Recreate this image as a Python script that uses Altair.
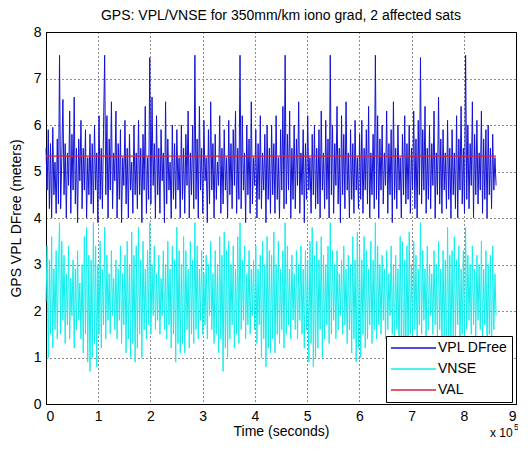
import altair as alt
import pandas as pd

FONT = "Liberation Sans"

# sampling step of the time series (seconds)
dt = 2160

# VPL DFree (meters), one list per day
vpl_d0 = [5.5,4.6,5.9,4.2,5.6,4.0,5.95,4.5,5.2,4.1,5.7,4.3,7.5,4.2,5.3,6.55,4.5,5.6,4.0,5.4,4.7,6.3,4.1,5.8,4.6,6.6,4.3,5.5,3.9,5.7,4.8,6.1,4.2,5.5,4.6,5.9,4.0,5.3,4.5,5.8]
vpl_d1 = [4.3,5.6,4.1,6.0,4.6,5.4,3.9,6.2,4.4,5.5,4.2,5.9,7.5,4.5,6.2,4.0,5.7,4.6,6.5,4.2,5.4,4.8,6.3,4.0,5.6,4.4,5.9,3.9,5.3,4.7,6.1,4.3,5.5,4.0,5.8,4.6,5.2,4.1,6.0,4.5]
vpl_d2 = [5.4,4.2,6.1,4.5,5.5,3.9,5.8,4.6,6.4,4.1,5.3,4.4,7.45,4.3,6.6,4.7,5.6,4.0,6.2,4.5,5.5,4.1,5.9,4.8,5.4,3.9,6.5,4.3,5.7,4.6,5.2,4.0,6.0,4.4,5.6,4.2,5.9,4.6,5.3,4.0]
vpl_d3 = [6.0,4.4,5.5,4.1,5.8,4.7,6.3,4.0,5.4,4.5,6.0,4.2,7.5,4.4,5.7,4.0,6.4,4.6,5.5,4.1,6.1,4.8,5.3,3.9,5.9,4.3,6.5,4.6,5.6,4.0,5.8,4.4,5.2,4.7,6.2,4.1,5.5,4.3,5.9,4.6]
vpl_d4 = [5.3,4.0,6.1,4.5,5.6,4.2,5.9,4.7,6.3,4.1,5.5,4.4,7.5,4.2,6.2,4.6,5.4,3.9,6.0,4.5,5.7,4.1,6.5,4.3,5.3,4.7,5.9,4.0,5.6,4.4,6.2,4.2,5.4,4.6,5.8,3.9,6.0,4.4,5.5,4.1]
vpl_d5 = [6.0,4.5,5.6,4.1,6.2,4.4,5.3,4.0,5.9,4.6,6.4,4.2,7.5,4.3,5.8,4.6,6.3,4.0,5.5,4.4,6.0,4.2,5.7,4.7,6.5,4.1,5.4,4.5,5.9,3.9,5.6,4.4,6.2,4.6,5.3,4.1,5.8,4.5,6.0,4.2]
vpl_d6 = [5.5,4.3,5.9,4.0,6.3,4.6,5.4,4.2,6.1,4.4,5.7,4.0,7.5,4.5,6.0,4.1,5.6,4.7,6.4,4.3,5.5,3.9,6.2,4.5,5.8,4.2,6.5,4.6,5.4,4.0,5.9,4.4,5.6,4.1,6.1,4.6,5.3,4.2,5.8,4.4]
vpl_d7 = [6.1,4.1,5.5,4.6,5.9,4.3,6.4,4.0,5.4,4.5,5.8,4.2,7.5,4.4,6.2,4.0,5.7,4.6,6.0,4.3,5.4,4.7,6.3,4.1,5.6,4.5,5.9,3.9,6.5,4.4,5.5,4.2,6.0,4.6,5.3,4.0,5.8,4.5,6.2,4.3]
vpl_d8 = [5.6,4.4,6.0,4.1,5.5,4.6,6.3,4.2,5.7,4.0,6.1,4.5,7.45,4.3,5.9,4.6,6.4,4.1,5.5,4.4,6.0,4.2,5.6,4.7,6.3,4.0,5.4,4.5,6.6,4.3,5.7,4.1,5.9,4.6,5.4,4.2,6.1,4.4,5.5,4.0]
vpl_d9 = [5.9,4.5,5.4,4.2,6.2,4.0,5.7,4.6,6.4,4.3,5.5,4.1,7.5,4.4,6.0,4.2,5.6,4.7,6.5,4.0,5.8,4.5,6.1,4.3,5.4,4.6,6.3,4.1,5.7,4.4,5.9,4.0,6.0,4.5,5.5,4.2,5.8,4.6,5.3,4.7]

# VNSE (meters), one list per day
vnse_d0 = [2.2,3.4,1.0,3.1,1.5,3.6,1.2,2.9,1.6,3.3,1.4,3.0,3.9,1.5,3.5,1.8,3.2,1.3,2.8,1.7,3.4,1.4,2.7,1.9,3.1,1.2,2.9,1.6,3.3,1.8,2.6,1.4,3.0,1.1,3.6,1.5,3.8,0.9,3.2,0.7]
vnse_d1 = [3.1,1.0,3.9,1.3,3.4,0.8,3.0,1.5,3.5,1.2,2.9,1.7,3.8,1.4,3.2,1.8,2.8,1.5,3.3,1.9,2.7,1.6,3.1,1.4,2.9,1.8,3.4,1.3,2.8,1.7,3.2,1.1,3.5,1.4,3.0,1.0,3.7,1.3,3.2,0.9]
vnse_d2 = [3.4,1.2,3.8,1.5,3.1,1.0,3.5,1.6,2.9,1.4,3.3,1.7,3.9,1.5,3.0,1.9,3.4,1.6,2.8,1.8,3.2,1.5,2.7,1.9,3.3,1.6,3.0,1.4,3.5,1.7,2.9,1.2,3.4,1.5,3.1,0.9,3.8,1.3,3.3,1.1]
vnse_d3 = [3.0,1.3,3.6,1.1,3.3,1.6,2.9,1.2,3.5,1.5,3.1,1.3,3.9,1.6,3.4,1.4,2.9,1.8,3.3,1.5,2.8,1.7,3.2,1.4,3.0,1.9,3.5,1.6,2.8,1.3,3.3,1.5,3.0,1.1,3.6,1.4,3.2,0.7,3.7,1.2]
vnse_d4 = [3.3,1.0,3.5,1.4,3.0,1.7,3.4,1.2,2.9,1.5,3.6,1.3,3.9,1.6,3.1,1.8,3.4,1.4,2.8,1.7,3.3,1.5,2.9,1.9,3.1,1.6,3.4,1.3,2.9,1.7,3.2,1.0,3.5,1.4,3.0,0.8,3.6,1.2,3.3,1.1]
vnse_d5 = [3.2,1.4,3.7,1.1,3.0,1.5,3.5,1.3,2.9,1.6,3.3,1.2,3.9,1.5,3.4,1.7,2.9,1.4,3.2,1.8,2.8,1.6,3.3,1.4,3.0,1.8,3.4,1.5,2.9,1.2,3.3,1.6,3.1,0.9,3.5,1.3,3.8,0.8,3.2,1.0]
vnse_d6 = [3.5,1.2,3.1,1.6,3.6,1.0,3.2,1.4,3.0,1.7,3.4,1.3,3.9,1.5,3.3,1.8,3.0,1.4,3.3,1.6,2.8,1.9,3.1,1.5,3.4,1.7,2.9,1.3,3.2,1.6,3.0,1.1,3.6,1.4,3.1,0.9,3.7,1.2,3.4,1.0]
vnse_d7 = [3.1,1.5,3.6,1.2,3.3,1.4,2.9,1.7,3.5,1.3,3.1,1.6,3.9,1.4,3.4,1.7,3.0,1.5,3.2,1.8,2.9,1.4,3.3,1.6,2.8,1.9,3.4,1.5,3.0,1.3,3.2,1.6,2.9,1.0,3.6,1.4,3.5,0.8,3.1,1.1]
vnse_d8 = [3.4,1.1,3.7,1.5,3.0,1.3,3.5,1.6,3.2,1.2,2.9,1.7,3.9,1.5,3.3,1.8,2.9,1.4,3.4,1.6,3.0,1.9,2.8,1.5,3.3,1.7,3.0,1.4,3.5,1.6,2.9,1.2,3.3,1.4,3.1,0.9,3.8,1.3,3.2,1.0]
vnse_d9 = [3.3,1.2,3.6,1.4,3.1,1.7,3.4,1.2,2.9,1.5,3.3,1.3,3.8,1.6,3.2,1.8,3.0,1.5,3.4,1.7,2.9,1.4,3.2,1.8,3.0,1.6,3.5,1.3,2.9,1.7,3.3,1.2,3.0,1.5,3.2,1.1,3.4,1.6,2.8,1.9]

VAL = 5.33

series_names = ["VPL DFree", "VNSE", "VAL"]
series_colors = ["#1212d6", "#12eeee", "#d42436"]

vpl = (vpl_d0 + vpl_d1 + vpl_d2 + vpl_d3 + vpl_d4 +
       vpl_d5 + vpl_d6 + vpl_d7 + vpl_d8 + vpl_d9)
vnse = (vnse_d0 + vnse_d1 + vnse_d2 + vnse_d3 + vnse_d4 +
        vnse_d5 + vnse_d6 + vnse_d7 + vnse_d8 + vnse_d9)
t = [i * dt for i in range(len(vpl))]
val_t = [t[0], t[-1]]
val_v = [VAL, VAL]

df = pd.DataFrame({
    "t": t + t + val_t,
    "v": vpl + vnse + val_v,
    "series": [series_names[0]] * len(vpl) + [series_names[1]] * len(vnse) + [series_names[2]] * 2,
})

x_enc = alt.X("t:Q",
              scale=alt.Scale(domain=[0, 900000], nice=False, zero=False),
              axis=alt.Axis(values=[i * 100000 for i in range(10)],
                            labelExpr="format(datum.value / 100000, 'd')",
                            title="Time (seconds)"))
y_enc = alt.Y("v:Q",
              scale=alt.Scale(domain=[0, 8], nice=False),
              axis=alt.Axis(values=list(range(9)), title="GPS VPL DFree (meters)"))
c_enc = alt.Color("series:N",
                  scale=alt.Scale(domain=series_names, range=series_colors),
                  sort=series_names,
                  legend=alt.Legend(title=None, orient="none", legendX=340, legendY=304,
                                    strokeColor="black", fillColor="white", padding=4,
                                    symbolType="stroke", symbolSize=2025, symbolStrokeWidth=1.5,
                                    clipHeight=16, rowPadding=5, labelFontSize=14, labelFont=FONT,
                                    labelColor="black", labelOffset=1, cornerRadius=0))

base = alt.Chart(df).mark_line(strokeWidth=1).encode(x=x_enc, y=y_enc, color=c_enc)
vpl_layer = base.transform_filter(alt.datum.series == "VPL DFree")
vnse_layer = base.transform_filter(alt.datum.series == "VNSE")
val_layer = alt.Chart(df).mark_line(strokeWidth=1.2).encode(
    x=x_enc, y=y_enc, color=c_enc).transform_filter(alt.datum.series == "VAL")

exp_df = pd.DataFrame({"s": ["x 10"]})
exp_txt = alt.Chart(exp_df).mark_text(align="left", baseline="middle", fontSize=12,
                                      font=FONT, color="black").encode(
    x=alt.value(444), y=alt.value(401), text="s:N")
exp5_df = pd.DataFrame({"s": ["5"]})
exp5_txt = alt.Chart(exp5_df).mark_text(align="left", baseline="middle", fontSize=9,
                                        font=FONT, color="black").encode(
    x=alt.value(468), y=alt.value(395), text="s:N")

chart = alt.layer(vpl_layer, vnse_layer, val_layer, exp_txt, exp5_txt).properties(
    width=470, height=372,
    autosize=alt.AutoSizeParams(type="none"),
    padding={"left": 38, "top": 24, "right": 2, "bottom": 38},
    title=alt.TitleParams("GPS: VPL/VNSE for 350mm/km iono grad, 2 affected sats",
                          frame="group", anchor="middle", fontSize=14, font=FONT,
                          fontWeight="normal", color="black", offset=2),
).configure_view(stroke="black", strokeWidth=1).configure_axis(
    domainColor="black", domainWidth=1, grid=True, gridColor="black",
    gridDash=[1, 3], gridOpacity=0.9, ticks=False, tickSize=0,
    labelFont=FONT, labelFontSize=14, labelColor="black", labelPadding=5,
    titleFont=FONT, titleFontSize=14, titleFontWeight="normal", titleColor="black",
).configure_axisX(titlePadding=1).configure_axisY(titlePadding=10)

chart.save("out.html", embed_options={"renderer": "svg", "actions": False})
